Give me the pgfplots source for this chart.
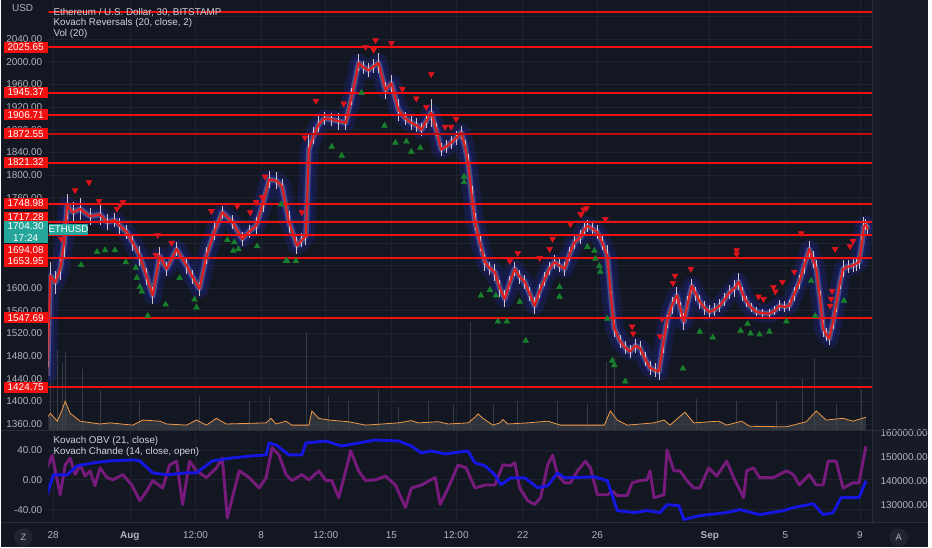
\documentclass[border=0pt]{standalone}
\usepackage{fontspec}
\setmainfont{Liberation Sans}
\usepackage{pgfplots}
\pgfplotsset{compat=1.18}
\usepackage{pgfplotstable}
\definecolor{bg}{RGB}{19,23,34}
\definecolor{bgr}{RGB}{23,27,37}
\definecolor{gridc}{RGB}{31,35,47}
\definecolor{sepc}{RGB}{42,46,57}
\definecolor{txt}{RGB}{178,181,190}
\definecolor{ttl}{RGB}{209,212,220}
\definecolor{lvl}{RGB}{240,16,16}
\definecolor{mared}{RGB}{228,28,28}
\definecolor{glow}{RGB}{30,40,165}
\definecolor{cand}{RGB}{214,196,202}
\definecolor{trired}{RGB}{222,20,28}
\definecolor{trigreen}{RGB}{24,128,44}
\definecolor{teal}{RGB}{38,166,154}
\definecolor{volc}{RGB}{70,76,84}
\definecolor{orng}{RGB}{240,152,72}
\definecolor{purp}{RGB}{124,28,128}
\definecolor{obvb}{RGB}{22,22,225}
\definecolor{circ}{RGB}{32,36,48}

\pgfplotstableread{
x y e
47 1445 30
48 1500 40
50 1622 25
55 1610 20
60 1634 20
64 1680 25
67 1745 22
73 1734 18
80 1740 20
90 1727 15
100 1730 18
107 1717 14
115 1720 12
120 1710 14
127 1699 12
133 1680 15
140 1657 18
147 1620 15
153 1587 15
160 1657 15
167 1634 12
177 1669 12
187 1640 15
193 1620 12
200 1599 12
207 1657 15
215 1700 15
223 1734 12
233 1717 12
243 1687 12
250 1700 12
257 1710 15
264 1750 15
270 1792 15
277 1790 15
283 1780 12
290 1717 20
298 1675 15
303 1685 12
307 1692 15
310 1845 25
315 1870 15
320 1890 15
326 1900 12
333 1898 12
340 1895 15
347 1892 12
353 1938 15
360 1998 15
365 1990 12
370 1985 12
375 1992 12
380 1998 18
387 1950 15
393 1962 15
400 1915 20
407 1900 12
413 1892 12
418 1888 12
423 1880 12
428 1895 12
433 1910 25
438 1880 12
443 1845 12
448 1850 12
453 1857 12
458 1865 12
463 1875 12
467 1850 12
470 1822 15
474 1760 20
477 1717 15
482 1680 15
487 1646 15
492 1635 12
497 1628 15
502 1600 15
507 1581 15
512 1610 12
517 1634 12
522 1620 12
527 1611 12
532 1590 12
537 1569 15
542 1595 12
547 1616 12
552 1635 12
557 1646 12
562 1640 12
567 1634 12
572 1660 12
577 1681 12
583 1690 12
587 1704 12
590 1710 10
595 1705 10
600 1699 12
605 1680 12
610 1657 20
614 1580 15
617 1529 15
623 1506 12
628 1495 12
633 1488 12
638 1498 12
643 1494 12
648 1475 12
653 1459 12
658 1455 12
662 1453 15
666 1500 15
670 1541 12
675 1570 15
680 1587 15
684 1560 15
687 1541 15
691 1575 12
695 1604 12
699 1590 12
703 1576 12
708 1565 12
713 1558 12
718 1562 12
723 1569 12
728 1580 12
733 1593 12
738 1600 15
742 1611 15
746 1590 12
750 1576 10
755 1565 8
760 1558 8
766 1556 8
773 1555 8
778 1560 8
783 1569 10
788 1567 10
793 1569 10
798 1590 12
803 1611 12
808 1640 15
813 1669 15
817 1650 15
820 1634 15
824 1580 15
827 1529 15
830 1518 12
833 1511 12
837 1540 12
840 1569 12
844 1610 12
847 1634 15
852 1638 12
857 1640 12
860 1643 12
863 1646 12
866 1680 15
868 1710 15
870 1712 10
872 1704 8
}\price

\pgfplotstableread{
x y
47 1370
50 1379
57 1365
62 1385
65 1400
70 1379
80 1365
100 1360
110 1362
133 1358
143 1367
160 1365
167 1360
187 1358
197 1367
207 1358
217 1370
227 1360
267 1362
272 1370
277 1360
287 1365
293 1358
310 1358
313 1383
320 1370
330 1367
350 1364
367 1358
400 1362
413 1366
420 1362
440 1364
450 1360
470 1362
477 1372
480 1378
485 1370
495 1358
502 1362
505 1368
510 1360
530 1362
550 1365
563 1358
607 1358
613 1383
620 1367
630 1358
657 1362
667 1367
673 1358
688 1381
697 1362
722 1365
730 1358
745 1365
753 1356
790 1355
810 1364
820 1383
830 1367
847 1370
857 1365
870 1372
}\volma

\pgfplotstableread{
x y
50 1511
57 1490
62 1467
65 1488
82 1458
100 1420
140 1400
200 1410
250 1400
270 1410
307 1520
330 1410
350 1400
380 1420
400 1390
430 1400
455 1395
472 1541
495 1395
520 1400
560 1400
590 1395
609 1470
617 1476
660 1400
700 1405
740 1400
780 1400
806 1440
818 1476
840 1395
865 1420
}\volspk

\pgfplotstableread{
x y
47 16
52 33
57 -1
60 -20
65 20
70 29
75 7
80 20
85 5
90 12
95 -8
100 16
107 3
113 0
123 7
132 -7
140 -28
147 -15
153 -1
163 -11
170 20
177 25
183 -33
190 25
197 12
207 3
217 16
223 29
228 -51
233 -24
240 12
250 3
260 -11
267 3
273 43
280 33
287 7
293 -1
303 7
310 0
320 12
327 -1
333 -1
340 -24
347 12
352 39
360 12
367 -1
377 0
387 5
397 -7
407 -37
413 -11
423 -7
437 3
442 -33
450 -11
460 20
468 16
477 -11
487 -7
497 -7
505 20
513 19
517 23
522 -11
530 -28
537 -33
543 -24
550 20
555 33
560 7
567 -4
573 -4
580 12
588 25
593 16
600 -20
610 -20
615 -15
620 -21
630 -21
635 -4
643 -1
650 0
653 12
657 -24
667 -20
670 40
677 12
683 12
690 -1
697 -11
703 -11
712 16
720 5
730 25
737 3
747 -24
750 12
757 16
763 3
777 3
790 12
797 7
803 -7
813 7
820 -7
827 -7
832 25
840 25
847 -11
857 -4
863 -4
870 45
}\chande

\pgfplotstableread{
x y
47 134167
53 142500
67 142500
77 146250
93 147500
110 148333
133 148750
140 148333
153 143333
167 142500
187 143333
197 143333
213 148333
233 149583
253 150417
267 150833
270 155833
277 155000
290 150833
303 150833
307 155833
327 156667
343 154583
360 155833
377 157083
400 156667
413 154583
423 151667
433 152500
447 151250
470 152500
477 147500
487 146250
497 142500
503 138333
513 141250
527 141250
540 137083
550 137917
560 143333
567 141250
597 141667
610 140000
620 127500
637 126667
650 127500
663 126667
670 130000
682 129583
687 123750
703 125417
730 126667
743 127917
763 125833
787 127500
797 128750
817 130417
827 125833
837 126667
845 132917
863 132917
870 140000
}\obv

\pgfplotsset{
  tvbase/.style={
    scale only axis, width=621pt, xmin=48, xmax=876,
    axis line style={draw=none}, major tick length=0pt, tick style={draw=none},
    major grid style={draw=gridc, line width=0.5pt},
    clip mode=individual,
    tick label style={font=\fontsize{7.5}{9}\selectfont, text=txt},
    /pgf/number format/assume math mode=true,
    /pgf/number format/fixed,
    /pgf/number format/fixed zerofill,
    /pgf/number format/precision=2,
    /pgf/number format/1000 sep={},
    scaled y ticks=false,
  },
  lvlline/.style={lvl, line width=1.5pt},
}

\begin{document}
\begin{tikzpicture}
\fill[bg] (0,0) rectangle (699pt,-412.5pt);
\fill[bgr] (657pt,0) rectangle (699pt,-393.75pt);

% ---------------- price panel ----------------
\begin{axis}[tvbase, at={(36pt,-324pt)}, anchor=south west, height=324pt,
  ymin=1349.3, ymax=2108.5,
  ytick={1360,1400,1440,1480,1520,1560,1600,1760,1800,1840,1880,1920,1960,2000,2040},
  extra y ticks={1640,1680,1720,2080}, extra y tick labels={},
  extra y tick style={grid=major},
  xtick={53,130,196,262,327,393,458,525,600,713,789,864},
  xticklabels={},
  xmajorgrids, ymajorgrids,
  yticklabel style={xshift=-1pt},
]
% volume
\addplot[ycomb, draw=volc, line width=0.6pt, opacity=0.7] table[x=x,y=y] {\volspk};
\addplot[fill=volc, fill opacity=0.55, draw=none] table[x=x,y=y] {\volma} \closedcycle;
\addplot[orng, line width=0.6pt] table[x=x,y=y] {\volma};
% blue envelope glow
\addplot[glow, line width=14pt, opacity=0.25, line join=round, line cap=round] table[x=x,y=y] {\price};
\addplot[glow, line width=7pt, opacity=0.35, line join=round, line cap=round] table[x=x,y=y] {\price};
% candle cloud
\addplot[cand, line width=4pt, opacity=0.3, line join=round] table[x=x,y=y] {\price};
\addplot[draw=none, mark=none, error bars/.cd, y dir=both, y explicit,
  error mark=none, error bar style={draw=cand, line width=0.7pt}]
  table[x=x,y=y,y error=e] {\price};
% moving line
\addplot[mared, line width=1.5pt, line join=round] table[x=x,y=y] {\price};
% level lines
\addplot[lvlline] coordinates {(48,2088) (876,2088)};
\addplot[lvlline] coordinates {(48,2025.65) (876,2025.65)};
\addplot[lvlline] coordinates {(48,1945.37) (876,1945.37)};
\addplot[lvlline] coordinates {(48,1906.71) (876,1906.71)};
\addplot[lvlline, draw=lvl!80!black] coordinates {(48,1872.55) (876,1872.55)};
\addplot[lvlline] coordinates {(48,1821.32) (876,1821.32)};
\addplot[lvlline] coordinates {(48,1748.98) (876,1748.98)};
\addplot[lvlline] coordinates {(48,1717.28) (876,1717.28)};
\addplot[lvlline] coordinates {(48,1694.08) (876,1694.08)};
\addplot[lvlline] coordinates {(48,1653.95) (876,1653.95)};
\addplot[lvlline] coordinates {(48,1547.69) (876,1547.69)};
\addplot[lvlline] coordinates {(48,1424.75) (876,1424.75)};
% reversal markers
\addplot[only marks, mark=triangle*, mark size=2.5pt,
  mark options={rotate=180, fill=trired, draw=trired}] coordinates {
(75,1773)(89,1787)(99,1754)(117,1740)(123,1752)(120,1747)(61,1687)(158,1694)(172,1680)(156,1659)
(212,1736)(238,1745)(251,1734)(257,1752)(263,1761)(266,1797)(303,1734)(306,1866)(317,1931)
(345,1926)(377,2038)(367,2026)(375,2021)(393,2033)(404,1952)(418,1935)(428,1920)(433,1978)
(447,1885)(453,1885)(458,1899)(512,1648)(520,1662)(542,1653)(552,1669)(555,1687)(573,1713)
(583,1731)(586,1739)(584,1731)(589,1741)(608,1722)(635,1532)(636,1520)(663,1515)(665,1546)
(676,1609)(678,1622)(694,1634)(740,1667)(740,1660)(762,1585)(767,1581)(777,1602)(779,1594)
(786,1611)(798,1629)(805,1697)(839,1669)(836,1595)(835,1581)(834,1569)(854,1674)(857,1683)};
\addplot[only marks, mark=triangle*, mark size=2.5pt,
  mark options={fill=trigreen, draw=trigreen}] coordinates {
(81,1641)(97,1664)(105,1667)(115,1667)(126,1646)(136,1636)(137,1618)(140,1602)(142,1594)
(148,1551)(166,1571)(180,1618)(195,1580)(197,1566)(228,1685)(235,1681)(234,1666)(239,1669)
(258,1674)(282,1748)(287,1648)(288,1648)(297,1648)(333,1850)(363,1945)(386,1887)(343,1834)
(397,1857)(408,1859)(413,1841)(422,1848)(466,1797)(466,1787)(483,1587)(492,1597)(498,1587)
(500,1541)(509,1541)(522,1576)(528,1507)(562,1602)(562,1585)(590,1673)(597,1666)(598,1652)
(602,1639)(603,1629)(610,1546)(615,1472)(617,1464)(628,1435)(686,1458)(703,1523)(716,1513)
(744,1525)(751,1537)(754,1520)(763,1518)(773,1523)(790,1541)(815,1613)(848,1578)(819,1551)};
\end{axis}

% ---------------- indicator panel ----------------
\begin{axis}[tvbase, at={(36pt,-393.75pt)}, anchor=south west, height=69.75pt,
  ymin=-57.3, ymax=66.7, ytick={-40,0,40},
  xtick={53,130,196,262,327,393,458,525,600,713,789,864},
  xticklabels={28,\textbf{Aug},12:00,8,12:00,15,12:00,22,26,\textbf{Sep},5,9},
  xticklabel style={yshift=-3.5pt},
  xmajorgrids, ymajorgrids,
  yticklabel style={xshift=-1pt},
]
\addplot[purp, line width=2.2pt, line join=round, opacity=0.95] table[x=x,y=y] {\chande};
\end{axis}
\begin{axis}[tvbase, at={(36pt,-393.75pt)}, anchor=south west, height=69.75pt,
  ymin=122500, ymax=161250, ytick={130000,140000,150000,160000},
  axis y line*=right, axis x line=none,
  yticklabel style={xshift=3pt},
]
\addplot[obvb, line width=2.2pt, line join=round] table[x=x,y=y] {\obv};
\end{axis}

% ---------------- overlays (labels) ----------------
\draw[sepc, line width=0.8pt] (0,-324pt) -- (699pt,-324pt);
\draw[sepc, line width=0.5pt] (657pt,0) -- (657pt,-393.75pt);
\draw[sepc, line width=0.5pt] (0,-393.75pt) -- (699pt,-393.75pt);

\begin{scope}[x=0.75pt, y=-0.75pt,
  lab/.style={fill=lvl, text=white, inner sep=0pt, minimum width=33pt, minimum height=8.4pt,
    font=\fontsize{7.5}{8}\selectfont, anchor=west}]
\fill[bg] (2,3) rectangle (47,20);
\node[text=txt, font=\fontsize{7.5}{9}\selectfont, anchor=west] at (7,8) {USD};
\node[lab] at (3,47) {2025.65};
\node[lab] at (3,92.5) {1945.37};
\node[lab] at (3,115) {1906.71};
\node[lab] at (3,134) {1872.55};
\node[lab] at (3,163) {1821.32};
\node[lab] at (3,204) {1748.98};
\node[lab] at (3,218) {1717.28};
\node[lab] at (3,251) {1694.08};
\node[lab] at (3,262.5) {1653.95};
\node[lab] at (3,319) {1547.69};
\node[lab] at (3,389) {1424.75};
\node[fill=teal, text=white, inner sep=0pt, minimum width=33pt, minimum height=16.5pt,
  anchor=west, align=center, font=\fontsize{7.5}{8.6}\selectfont] at (3,233) {1704.30\\17:24};
\node[fill=teal, text=white, inner sep=0pt, minimum width=30pt, minimum height=8.4pt,
  anchor=west, font=\fontsize{7.3}{8}\selectfont] at (48,230) {ETHUSD};

\node[text=ttl, font=\fontsize{7.4}{9}\selectfont, anchor=west, inner sep=0pt] at (53,12) {Ethereum / U.S. Dollar, 30, BITSTAMP};
\node[text=ttl, font=\fontsize{7.4}{9}\selectfont, anchor=west, inner sep=0pt] at (53,23) {Kovach Reversals (20, close, 2)};
\node[text=ttl, font=\fontsize{7.4}{9}\selectfont, anchor=west, inner sep=0pt] at (53,34) {Vol (20)};
\node[text=ttl, font=\fontsize{7.4}{9}\selectfont, anchor=west, inner sep=0pt] at (53,443) {Kovach OBV (21, close)};
\node[text=ttl, font=\fontsize{7.4}{9}\selectfont, anchor=west, inner sep=0pt] at (53,454) {Kovach Chande (14, close, open)};

\node[circle, fill=circ, text=txt, minimum size=14pt, inner sep=0pt, font=\fontsize{7}{8}\selectfont] at (23,540) {Z};
\node[circle, fill=circ, text=txt, minimum size=14pt, inner sep=0pt, font=\fontsize{7}{8}\selectfont] at (903,540) {A};
\end{scope}
\end{tikzpicture}
\end{document}
